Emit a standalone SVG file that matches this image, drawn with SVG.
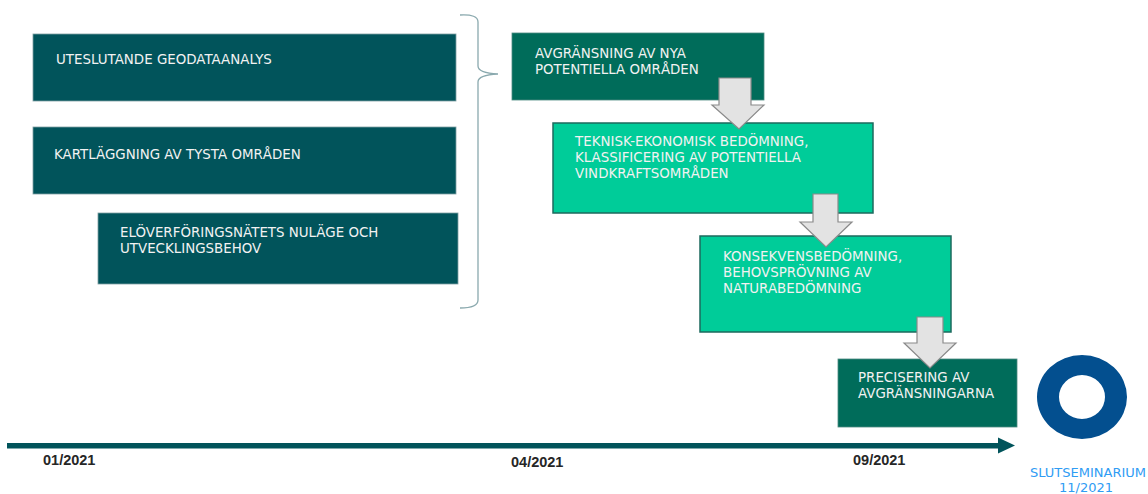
<svg xmlns="http://www.w3.org/2000/svg" width="1148" height="494" viewBox="0 0 1148 494">
<style>
.t{font-family:"DejaVu Sans",Verdana,sans-serif;font-size:13.4px;fill:#f2f2f2}
.dark{fill:#01545b;stroke:#7e9ea2;stroke-width:0.8}
.green{fill:#006c5a;stroke:#4d8a80;stroke-width:0.8}
.mint{fill:#00cc99;stroke:#1d6a5e;stroke-width:1.5}
.blk{fill:#e3e3e3;stroke:#8a8a8a;stroke-width:1.2}
.date{font-family:"Liberation Sans",Arial,sans-serif;font-weight:bold;font-size:14.5px;fill:#262626}
.seminar{font-family:"DejaVu Sans",Verdana,sans-serif;font-size:13px;fill:#2f9cf4;text-anchor:middle}
</style>
<rect width="1148" height="494" fill="#ffffff"/>

<g id="node-geodata">
<rect class="dark" x="33" y="34" width="423" height="67"/>
<text class="t" x="56" y="64">UTESLUTANDE GEODATAANALYS</text>
</g>
<g id="node-tysta">
<rect class="dark" x="33" y="127" width="423" height="67"/>
<text class="t" x="54" y="159">KARTLÄGGNING AV TYSTA OMRÅDEN</text>
</g>
<g id="node-elnat">
<rect class="dark" x="98" y="213" width="360" height="71"/>
<text class="t" x="120" y="237">ELÖVERFÖRINGSNÄTETS NULÄGE OCH</text>
<text class="t" x="120" y="253">UTVECKLINGSBEHOV</text>
</g>
<g id="brace">
<path d="M460,15 Q478,14 478,22 L478,66 Q478,73 498,74 Q478,75 478,82 L478,300 Q478,308 460,308" fill="none" stroke="#8aa9ae" stroke-width="1.3"/>
</g>
<g id="node-avgransning">
<rect class="green" x="512" y="33" width="252" height="67"/>
<text class="t" x="535" y="58">AVGRÄNSNING AV NYA</text>
<text class="t" x="535" y="74">POTENTIELLA OMRÅDEN</text>
</g>
<g id="node-teknisk">
<rect class="mint" x="553" y="123" width="320" height="90"/>
<text class="t" x="575" y="146">TEKNISK-EKONOMISK BEDÖMNING,</text>
<text class="t" x="575" y="162">KLASSIFICERING AV POTENTIELLA</text>
<text class="t" x="575" y="178">VINDKRAFTSOMRÅDEN</text>
</g>
<g id="node-konsekvens">
<rect class="mint" x="700" y="236" width="251" height="96"/>
<text class="t" x="723" y="261">KONSEKVENSBEDÖMNING,</text>
<text class="t" x="723" y="277">BEHOVSPRÖVNING AV</text>
<text class="t" x="723" y="293">NATURABEDÖMNING</text>
</g>
<g id="node-precisering">
<rect class="green" x="838" y="359" width="179" height="68"/>
<text class="t" x="858" y="382">PRECISERING AV</text>
<text class="t" x="858" y="398">AVGRÄNSNINGARNA</text>
</g>
<g id="node-slutseminarium">
<path d="M1037,397 a45,42 0 1,0 90,0 a45,42 0 1,0 -90,0 Z M1059,397 a23,22 0 1,1 46,0 a23,22 0 1,1 -46,0 Z" fill="#034f8f" fill-rule="evenodd"/>
<text class="seminar" x="1088" y="477">SLUTSEMINARIUM</text>
<text class="seminar" x="1086" y="492">11/2021</text>
</g>

<g id="connectors">
<path class="blk" d="M719,78 H751 V105 H764 L739,129 L712,105 H719 Z"/>
<path class="blk" d="M813,194 H838 V222 H852 L826,247 L800,222 H813 Z"/>
<path class="blk" d="M917,317 H943 V343 H956 L930,368 L904,343 H917 Z"/>
</g>

<g id="timeline">
<rect x="7" y="443" width="992" height="5.5" fill="#01545b"/>
<path d="M998,437.5 L1015,445.5 L998,453.5 Z" fill="#01545b"/>
<text class="date" x="43" y="465">01/2021</text>
<text class="date" x="511" y="467">04/2021</text>
<text class="date" x="853" y="465">09/2021</text>
</g>
</svg>
